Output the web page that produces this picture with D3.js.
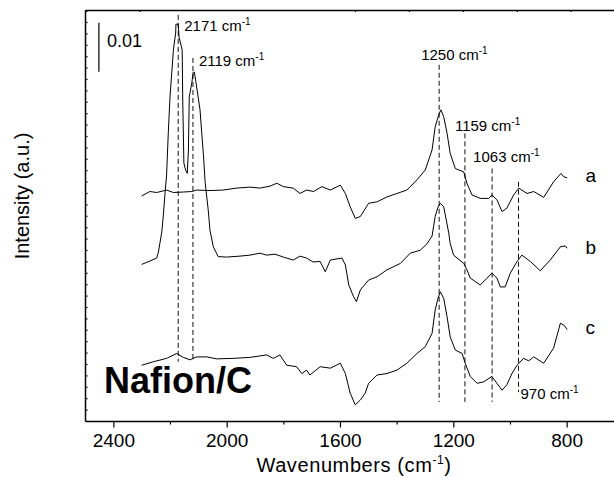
<!DOCTYPE html>
<html><head><meta charset="utf-8">
<script src="https://cdn.jsdelivr.net/npm/d3@7"></script>
<style>
body{margin:0;background:#fff}
svg{display:block}
text{font-family:"Liberation Sans",Arial,Helvetica,sans-serif;fill:#000}
</style>
</head><body>
<svg id="chart" width="614" height="477"></svg>
<script>
// ---------- data ----------
const xDomain = [2500, 600];            // wavenumber (cm-1)
const xMajorTicks = [2400, 2000, 1600, 1200, 800];
const xMinorTicks = [2200, 1800, 1400, 1000];
const topTicks = [2308, 1547, 1357, 1166, 976, 786];
const yDomain = [0, 84];                // intensity, 1e-3 a.u.
const yTickStep = 2.33;
const scaleBar = {w: 2451, from: 71.4, size: 10, label: "0.01"};

// spectra: [wavenumber, intensity (1e-3 a.u., offset included)]
const curveA = [[2300,46.0],[2271,46.9],[2247,46.7],[2212,47.2],[2188,46.7],[2153,46.8],[2123,46.9],[2106,47.2],[2059,47.1],[2012,47.2],[1965,47.6],[1918,47.8],[1882,47.6],[1847,48.0],[1823,48.6],[1800,47.9],[1765,47.6],[1741,46.5],[1718,47.2],[1693,46.9],[1664,47.9],[1634,47.2],[1599,48.2],[1581,46.5],[1564,43.8],[1546,41.4],[1528,41.8],[1499,44.5],[1469,44.8],[1434,45.8],[1399,46.5],[1364,47.2],[1328,49.3],[1299,51.3],[1275,55.4],[1264,60.1],[1252,62.5],[1244,63.6],[1234,62.2],[1222,58.8],[1211,54.7],[1193,51.6],[1163,50.9],[1152,48.6],[1134,46.2],[1105,45.5],[1075,45.5],[1064,46.2],[1046,45.2],[1028,42.8],[1011,43.5],[987,46.2],[969,47.6],[940,46.5],[916,46.9],[881,45.7],[846,48.9],[820,50.6],[810,49.9],[798,49.7]];
const curveB = [[2300,32.0],[2271,32.7],[2247,33.3],[2241,34.5],[2229,38.6],[2224,41.7],[2218,46.2],[2212,50.3],[2206,58.9],[2200,66.2],[2188,75.8],[2180,79.3],[2179,81.1],[2171,81.1],[2168,78.5],[2157,75.8],[2155,65.6],[2151,52.7],[2145,51.3],[2139,50.6],[2135,55.4],[2132,66.2],[2123,69.1],[2118,71.3],[2114,71.3],[2108,69.1],[2094,63.6],[2088,58.9],[2082,54.4],[2076,48.8],[2065,43.1],[2059,39.0],[2047,35.6],[2030,33.6],[2000,33.5],[1953,33.7],[1918,33.9],[1882,34.3],[1859,33.9],[1829,34.1],[1800,33.5],[1765,32.9],[1741,33.7],[1718,33.3],[1695,32.5],[1670,32.6],[1652,30.5],[1634,32.9],[1593,33.3],[1581,31.9],[1569,27.8],[1552,25.4],[1542,24.4],[1528,26.8],[1499,28.8],[1469,29.5],[1434,30.9],[1387,32.2],[1352,34.3],[1317,34.9],[1293,36.2],[1275,37.8],[1264,41.8],[1254,43.7],[1246,44.5],[1234,43.8],[1216,38.4],[1211,36.3],[1199,33.9],[1163,32.2],[1152,30.9],[1140,29.2],[1105,27.8],[1081,29.2],[1064,30.2],[1046,29.2],[1034,27.4],[1017,27.4],[999,30.2],[975,32.6],[958,33.9],[928,32.6],[893,30.7],[858,32.9],[822,35.6],[805,35.8],[798,35.3]];
const curveC = [[2300,11.4],[2259,12.1],[2212,12.8],[2176,13.8],[2153,13.0],[2129,12.5],[2106,13.1],[2070,13.1],[2035,12.7],[1977,12.8],[1918,13.0],[1859,13.5],[1835,12.8],[1812,13.5],[1788,11.4],[1753,11.1],[1735,9.7],[1718,10.4],[1706,9.4],[1670,11.1],[1634,10.8],[1599,11.8],[1581,9.7],[1564,5.7],[1546,3.3],[1528,4.3],[1511,5.7],[1499,7.7],[1469,9.4],[1434,9.7],[1399,10.4],[1364,11.8],[1328,13.8],[1299,15.2],[1275,17.9],[1264,22.7],[1254,25.1],[1246,26.4],[1234,25.1],[1222,21.3],[1211,17.2],[1193,14.5],[1169,13.8],[1158,11.8],[1140,9.1],[1116,7.7],[1093,8.0],[1064,9.1],[1046,7.7],[1028,6.3],[1011,7.4],[993,9.7],[975,11.4],[952,12.8],[934,12.3],[916,13.1],[881,11.8],[846,14.9],[822,20.0],[810,19.6],[798,18.7]];

const series = [{name: "a", data: curveA}, {name: "b", data: curveB}, {name: "c", data: curveC}];
const seriesLabelPos = [{w: 733, v: 48.8}, {w: 733, v: 34.1}, {w: 733, v: 17.7}];

const peakWaves = [2171, 2119, 1250, 1159, 1063, 970];
const peakTop = [83.0, 74.2, 72.8, 58.8, 51.6, 48.9];
const peakBottom = [12.1, 12.1, 3.9, 3.9, 3.9, 5.9];

// ---------- layout ----------
const svg = d3.select("#chart");
const mLeft = 85, mTop = 10, mBottom = 421;
const x = d3.scaleLinear().domain(xDomain).range([mLeft, 623.3]);
const y = d3.scaleLinear().domain(yDomain).range([mBottom, mTop]);

// axes
const gB = svg.append("g").attr("transform", `translate(0,${mBottom})`)
  .call(d3.axisBottom(x).tickValues(xMajorTicks).tickSize(6.5).tickSizeOuter(0).tickPadding(6.5).tickFormat(d3.format("d")));
gB.selectAll("text").attr("font-size", 19).style("font-family", "'Liberation Sans',Arial,sans-serif");
const gBm = svg.append("g").attr("transform", `translate(0,${mBottom})`)
  .call(d3.axisBottom(x).tickValues(xMinorTicks).tickSize(3.5).tickSizeOuter(0).tickFormat(""));
const gT = svg.append("g").attr("transform", `translate(0,${mTop})`)
  .call(d3.axisBottom(x).tickValues(topTicks).tickSize(2).tickSizeOuter(0).tickFormat(""));
const yTicks = d3.range(1, Math.floor(yDomain[1] / yTickStep) + 1).map(k => k * yTickStep);
const gL = svg.append("g").attr("transform", `translate(${mLeft},0)`)
  .call(d3.axisRight(y).tickValues(yTicks).tickSize(2.5).tickSizeOuter(0).tickFormat(""));
[gB, gBm, gT, gL].forEach(g => {
  g.select(".domain").attr("stroke", "#000").attr("stroke-width", 1.5);
  g.selectAll(".tick line").attr("stroke", "#000").attr("stroke-width", 1.2);
});
gBm.select(".domain").remove();

// axis titles
const xt = svg.append("text").attr("x", 354).attr("y", 472).attr("text-anchor", "middle")
  .attr("font-size", 20).attr("letter-spacing", 0.6);
xt.append("tspan").text("Wavenumbers (cm");
xt.append("tspan").attr("font-size", 12).attr("dy", -8).text("-1");
xt.append("tspan").attr("dy", 8).text(")");
svg.append("text").attr("transform", "translate(29,196) rotate(-90)").attr("text-anchor", "middle")
  .attr("font-size", 20).text("Intensity (a.u.)");

// peak marker lines
svg.append("g").selectAll("line").data(peakWaves).join("line")
  .attr("x1", d => x(d)).attr("x2", d => x(d))
  .attr("y1", (d, i) => y(peakTop[i])).attr("y2", (d, i) => y(peakBottom[i]))
  .attr("stroke", "#111").attr("stroke-width", 1).attr("stroke-dasharray", "5,3");

// spectra
const line = d3.line().x(d => x(d[0])).y(d => y(d[1]));
svg.append("g").selectAll("path").data(series).join("path")
  .attr("d", d => line(d.data)).attr("fill", "none").attr("stroke", "#000").attr("stroke-width", 1);

// peak labels: offsets from the top (or bottom) end of each marker
const labelOff = [{dx: 6, dy: 16, ref: "top"}, {dx: 6, dy: 8, ref: "top"}, {dx: -18, dy: -5, ref: "top"},
                  {dx: -10, dy: -2, ref: "top"}, {dx: -19, dy: -7, ref: "top"}, {dx: 2, dy: 7, ref: "bottom"}];
peakWaves.forEach((w, i) => {
  const o = labelOff[i];
  const yy = o.ref === "top" ? y(peakTop[i]) : y(peakBottom[i]);
  const t = svg.append("text").attr("x", x(w) + o.dx).attr("y", yy + o.dy).attr("font-size", 15);
  t.append("tspan").text(w + " cm");
  t.append("tspan").attr("font-size", 10).attr("dy", -6).text("-1");
});

// series labels
svg.append("g").selectAll("text").data(series).join("text")
  .attr("x", (d, i) => x(seriesLabelPos[i].w)).attr("y", (d, i) => y(seriesLabelPos[i].v))
  .attr("font-size", 19).text(d => d.name);

// scale bar
svg.append("line").attr("x1", x(scaleBar.w)).attr("x2", x(scaleBar.w))
  .attr("y1", y(scaleBar.from)).attr("y2", y(scaleBar.from + scaleBar.size))
  .attr("stroke", "#000").attr("stroke-width", 1.2);
svg.append("text").attr("x", x(scaleBar.w) + 8).attr("y", 47).attr("font-size", 18).text(scaleBar.label);

// sample name
svg.append("text").attr("x", 104).attr("y", 393).attr("font-size", 36).attr("font-weight", "bold").text("Nafion/C");
</script>
</body></html>
